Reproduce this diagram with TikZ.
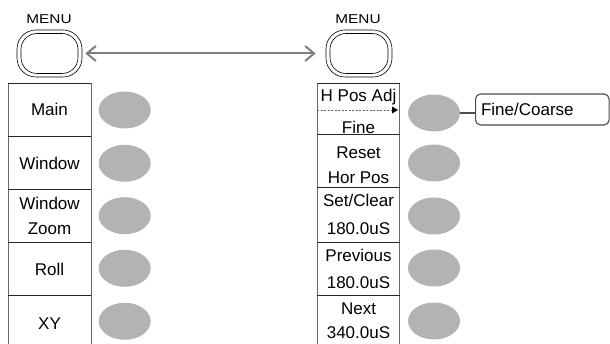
\documentclass[tikz,border=0pt]{standalone}
\usepackage{fontspec}
\setmainfont{Liberation Sans}
\usetikzlibrary{arrows.meta,shapes.geometric}
\definecolor{keygray}{HTML}{B3B3B3}
\definecolor{arrgray}{HTML}{7F7F7F}
\begin{document}
\begin{tikzpicture}[x=1pt,y=-1pt,
  lbl/.style={font=\fontsize{17}{20}\selectfont, anchor=base, inner sep=0pt},
  menulbl/.style={font=\fontsize{12.8}{14}\selectfont, anchor=base, inner sep=0pt},
  softkey/.style={ellipse, fill=keygray, draw=none, minimum width=52pt, minimum height=37pt, inner sep=0pt},
  vline/.style={draw=black!60, line width=0.9pt},
  hline/.style={draw=black!85, line width=0.9pt},
  outerbtn/.style={draw, rounded corners=19pt, line width=0.6pt, minimum width=65pt, minimum height=47pt, inner sep=0pt},
  innerbtn/.style={draw, rounded corners=16pt, line width=0.6pt, minimum width=57pt, minimum height=40pt, inner sep=0pt},
  linkarrow/.style={draw=arrgray, line width=2pt, {Straight Barb[length=9pt,width=15pt,line width=2pt]}-{Straight Barb[length=9pt,width=15pt,line width=2pt]}},
  fcbox/.style={draw=black!70, rounded corners=5pt, line width=1.1pt, minimum height=31pt, text width=122.5pt, inner xsep=5.5pt, inner ysep=0pt, align=left, text height=12.2pt, text depth=0pt, font=\fontsize{17}{20}\selectfont, anchor=west}
]
\fill[white] (0,0) rectangle (610,344);
\useasboundingbox (0,0) rectangle (610,344);

% MENU buttons
\node[menulbl] (lmenu) at (49,24) {\scalebox{1.2}[1]{MENU}};
\node[menulbl] (rmenu) at (358,24) {\scalebox{1.2}[1]{MENU}};
\node[outerbtn] (lbo) at (49.5,53.5) {};
\node[innerbtn] (lbi) at (49.5,53.5) {};
\node[outerbtn, minimum width=66pt] (rbo) at (359,53.5) {};
\node[innerbtn, minimum width=58pt] (rbi) at (359,53.5) {};
\draw[linkarrow, shorten <=3pt, shorten >=10pt] (lbo.east) -- (rbo.west);

% left column
\draw[vline] (8,83.5) -- (8,344);
\draw[vline] (91,83.5) -- (91,344);
\foreach \yy in {83.5,136.5,189.3,242,295} \draw[hline] (8,\yy) -- (91,\yy);
\node[lbl] (lmain) at (49.5,115.6) {Main};
\node[lbl] (lwin) at (49.5,170) {Window};
\node[lbl] (lwz1) at (49.5,210) {Window};
\node[lbl] (lwz2) at (49.5,235) {Zoom};
\node[lbl] (lroll) at (49.5,275.7) {Roll};
\node[lbl] (lxy) at (49.5,329.3) {XY};
\node[softkey] (le1) at (124.7,110) {};
\node[softkey] (le2) at (124.7,163.3) {};
\node[softkey] (le3) at (124.7,215.7) {};
\node[softkey] (le4) at (124.7,268.3) {};
\node[softkey] (le5) at (124.7,321.3) {};

% right column
\draw[vline] (317.3,83.5) -- (317.3,344);
\draw[vline] (399.5,83.5) -- (399.5,344);
\foreach \yy in {83.5,134.5,187.7,242.3,295.7} \draw[hline] (317.3,\yy) -- (399.5,\yy);
\node[lbl] (rh1) at (358.5,102) {H Pos Adj};
\node[lbl] (rh2) at (358.5,133.3) {Fine};
\node[lbl] (rr1) at (358.5,158.3) {Reset};
\node[lbl] (rr2) at (358.5,183.3) {Hor Pos};
\node[lbl] (rs1) at (358.5,206.5) {Set/Clear};
\node[lbl] (rs2) at (358.5,235) {180.0uS};
\node[lbl] (rp1) at (358.5,261.7) {Previous};
\node[lbl] (rp2) at (358.5,288.3) {180.0uS};
\node[lbl] (rn1) at (358.5,315) {Next};
\node[lbl] (rn2) at (358.5,338.3) {340.0uS};
\draw[draw=black!60, line width=0.6pt, dash pattern=on 2pt off 1.5pt] (317.3,110) -- (392,110);
\fill[black] (392,106.5) -- (398,110) -- (392,113.5) -- cycle;
\node[softkey] (re1) at (434,113) {};
\node[softkey] (re2) at (434,163) {};
\node[softkey] (re3) at (434,216) {};
\node[softkey] (re4) at (434,268) {};
\node[softkey] (re5) at (434,321) {};

% Fine/Coarse
\node[fcbox] (fc) at (475,109.5) {Fine/Coarse};
\draw[draw=black!70, line width=1.1pt] (re1.east) -- (re1.east -| fc.west);
\end{tikzpicture}
\end{document}
